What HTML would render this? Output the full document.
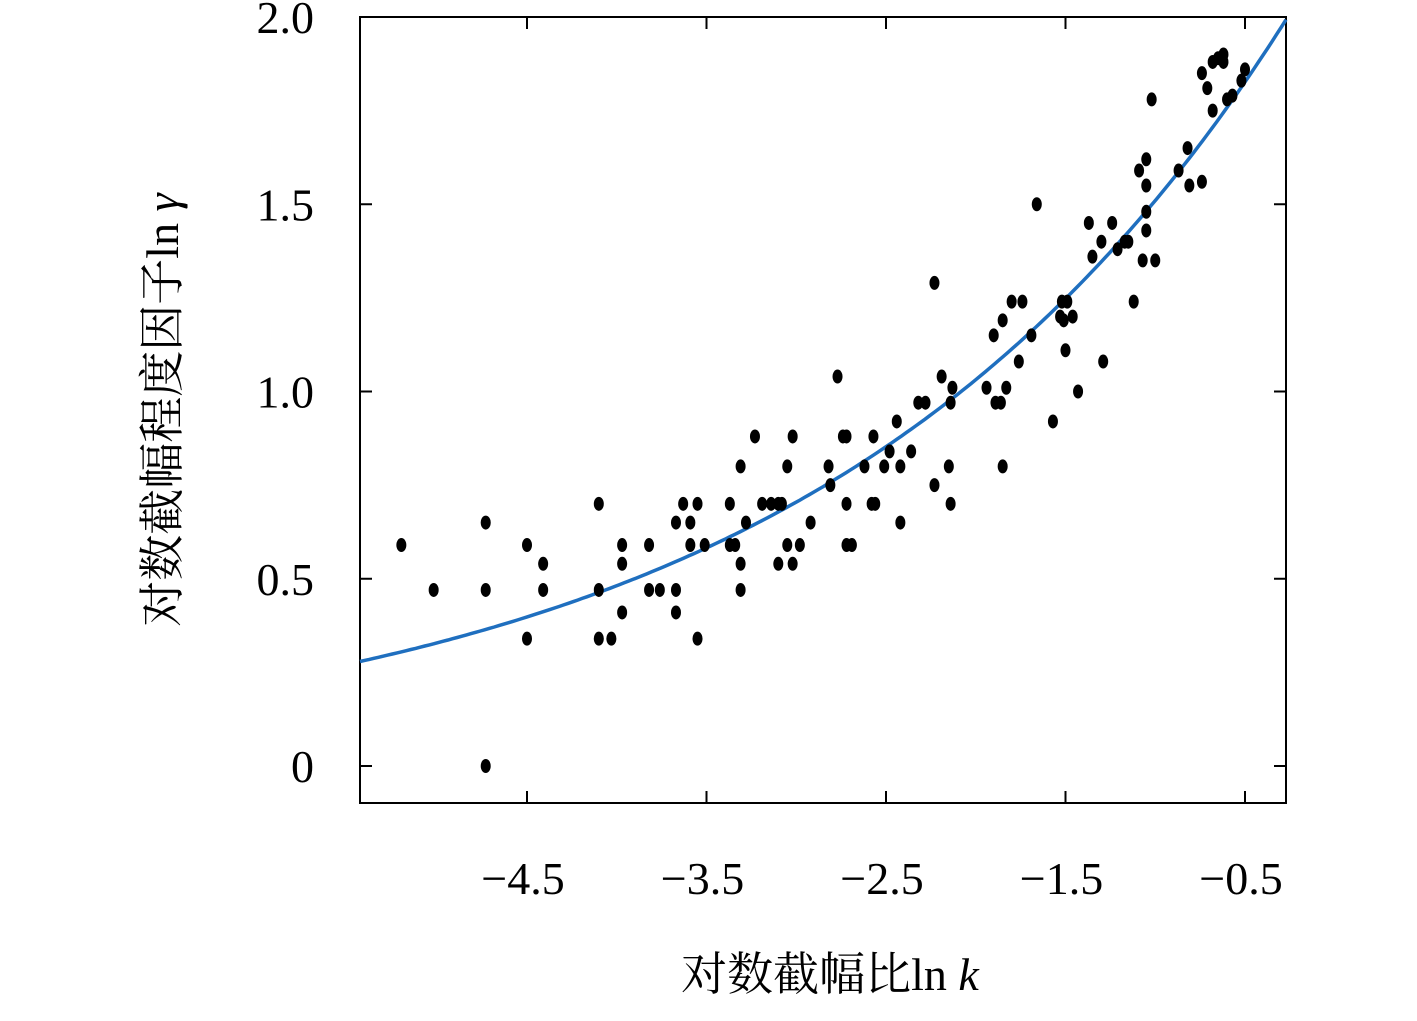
<!DOCTYPE html>
<html><head><meta charset="utf-8"><style>
body{margin:0;background:#fff;width:1417px;height:1016px;overflow:hidden}
text{font-family:"Liberation Serif","Noto Serif CJK SC",serif;fill:#000}
</style></head><body>
<svg id="chart" width="1417" height="1016" xmlns="http://www.w3.org/2000/svg"></svg>
<script>
const xTicks=[-4.5,-3.5,-2.5,-1.5,-0.5];
const xTickLabels=["\u22124.5","\u22123.5","\u22122.5","\u22121.5","\u22120.5"];
const yTicks=[0,0.5,1.0,1.5,2.0];
const yTickLabels=["0","0.5","1.0","1.5","2.0"];
const ptsX=[-5.20,-5.02,-4.73,-4.73,-4.73,-4.5,-4.5,-4.41,-4.41,-4.10,-4.10,-4.10,-4.03,-3.97,-3.97,-3.97,-3.82,-3.82,-3.76,-3.67,-3.67,-3.67,-3.63,-3.59,-3.59,-3.55,-3.55,-3.51,-3.37,-3.37,-3.34,-3.31,-3.31,-3.31,-3.28,-3.23,-3.19,-3.14,-3.10,-3.08,-3.05,-3.05,-3.02,-3.02,-3.10,-2.98,-2.92,-2.82,-2.81,-2.77,-2.74,-2.72,-2.72,-2.72,-2.69,-2.62,-2.58,-2.57,-2.56,-2.51,-2.48,-2.44,-2.42,-2.42,-2.36,-2.32,-2.28,-2.23,-2.23,-2.19,-2.15,-2.14,-2.14,-2.13,-1.94,-1.90,-1.89,-1.85,-1.85,-1.86,-1.83,-1.80,-1.76,-1.74,-1.69,-1.66,-1.57,-1.53,-1.52,-1.51,-1.50,-1.49,-1.46,-1.43,-1.37,-1.35,-1.30,-1.29,-1.24,-1.21,-1.17,-1.15,-1.12,-1.09,-1.05,-1.05,-1.05,-1.05,-1.07,-1.00,-1.02,-0.87,-0.82,-0.81,-0.74,-0.74,-0.71,-0.68,-0.68,-0.65,-0.62,-0.62,-0.60,-0.57,-0.52,-0.50];
const ptsY=[0.59,0.47,0.65,0.47,0,0.59,0.34,0.54,0.47,0.70,0.47,0.34,0.34,0.59,0.54,0.41,0.59,0.47,0.47,0.65,0.47,0.41,0.70,0.65,0.59,0.70,0.34,0.59,0.70,0.59,0.59,0.80,0.54,0.47,0.65,0.88,0.70,0.70,0.70,0.70,0.80,0.59,0.88,0.54,0.54,0.59,0.65,0.80,0.75,1.04,0.88,0.88,0.70,0.59,0.59,0.80,0.70,0.88,0.70,0.80,0.84,0.92,0.80,0.65,0.84,0.97,0.97,1.29,0.75,1.04,0.80,0.97,0.70,1.01,1.01,1.15,0.97,0.80,1.19,0.97,1.01,1.24,1.08,1.24,1.15,1.50,0.92,1.20,1.24,1.19,1.11,1.24,1.20,1.00,1.45,1.36,1.40,1.08,1.45,1.38,1.40,1.40,1.24,1.59,1.62,1.43,1.55,1.48,1.35,1.35,1.78,1.59,1.65,1.55,1.56,1.85,1.81,1.88,1.75,1.89,1.90,1.88,1.78,1.79,1.83,1.86];
const fitA=2.21, fitB=0.381;
const NS="http://www.w3.org/2000/svg";
const svg=document.getElementById('chart');
const L=360,R=1286,T=17,B=803;
const sx=v=>527+(v+4.5)*179.5;
const sy=v=>766-v*374.5;
function mk(tag,attrs,parent){const e=document.createElementNS(NS,tag);for(const k in attrs)e.setAttribute(k,attrs[k]);(parent||svg).appendChild(e);return e;}
// frame
const fr=mk('rect',{x:L,y:T,width:R-L,height:B-T,fill:'none',stroke:'#000','stroke-width':2});


xTicks.forEach((v,i)=>{
  const t1=mk('line',{x1:sx(v),x2:sx(v),y1:B,y2:B-12,stroke:'#000','stroke-width':2});
  
  
  const t2=mk('line',{x1:sx(v),x2:sx(v),y1:T,y2:T+12,stroke:'#000','stroke-width':2});
  
  
  const tx=mk('text',{x:sx(v)-4,y:894,'font-size':46,'text-anchor':'middle'});
  tx.textContent=xTickLabels[i];
  
  
});
yTicks.forEach((v,i)=>{
  const t1=mk('line',{x1:L,x2:L+12,y1:sy(v),y2:sy(v),stroke:'#000','stroke-width':2});
  
  
  const t2=mk('line',{x1:R,x2:R-12,y1:sy(v),y2:sy(v),stroke:'#000','stroke-width':2});
  
  
  const tx=mk('text',{x:314,y:sy(v)+16,'font-size':46,'text-anchor':'end'});
  tx.textContent=yTickLabels[i];
  
  
});
// fit curve
let d='';
const x0=(L-527)/179.5-4.5, x1=(R-527)/179.5-4.5;
for(let i=0;i<=200;i++){const x=x0+(x1-x0)*i/200;const y=fitA*Math.exp(fitB*x);d+=(i?'L':'M')+sx(x).toFixed(1)+' '+sy(y).toFixed(1);}
const cv=mk('path',{d:d,fill:'none',stroke:'#1f6fbf','stroke-width':3.5});


ptsX.forEach((x,i)=>{
  const p=mk('ellipse',{cx:sx(x),cy:sy(ptsY[i]),rx:5,ry:7,fill:'#000'});
  
  
});
const xt=mk('text',{x:830,y:990,'font-size':46,'text-anchor':'middle'});
xt.innerHTML='对数截幅比ln <tspan font-style="italic">k</tspan>';


const yt=mk('text',{x:0,y:0,'font-size':46,'text-anchor':'middle',transform:'translate(178,410) rotate(-90)'});
yt.innerHTML='对数截幅程度因子ln <tspan font-style="italic">γ</tspan>';


</script>
</body></html>
